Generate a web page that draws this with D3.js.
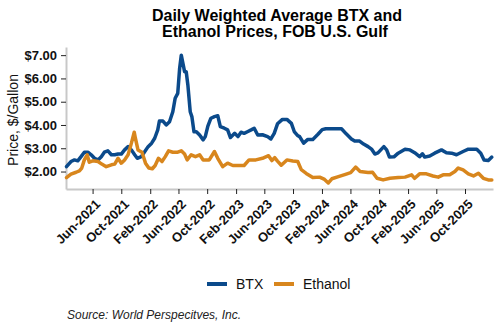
<!DOCTYPE html>
<html>
<head>
<meta charset="utf-8">
<script src="https://cdn.jsdelivr.net/npm/d3@7"></script>
<style>
  body { margin: 0; background: #fff; }
  svg { font-family: "Liberation Sans", Arial, sans-serif; }
</style>
</head>
<body>
<div id="chart"></div>
<script>
// BTX daily weighted average, $/gallon
const btx = [
  ["2021-02-10", 2.21], ["2021-03-01", 2.43], ["2021-03-16", 2.50], ["2021-03-30", 2.46],
  ["2021-04-13", 2.64], ["2021-04-27", 2.83], ["2021-05-12", 2.83], ["2021-05-26", 2.72],
  ["2021-06-09", 2.57], ["2021-06-24", 2.50], ["2021-07-08", 2.64], ["2021-07-21", 2.83],
  ["2021-08-05", 2.89], ["2021-08-20", 2.72], ["2021-09-03", 2.72], ["2021-09-17", 2.75],
  ["2021-10-01", 2.75], ["2021-10-15", 2.93], ["2021-10-30", 3.07], ["2021-11-13", 2.93],
  ["2021-11-27", 2.72], ["2021-12-08", 2.57], ["2021-12-25", 2.64], ["2022-01-09", 2.86],
  ["2022-01-23", 3.07], ["2022-02-07", 3.22], ["2022-02-20", 3.43], ["2022-03-05", 3.79],
  ["2022-03-12", 4.17], ["2022-03-27", 4.17], ["2022-04-10", 4.00], ["2022-04-24", 4.14],
  ["2022-05-08", 4.57], ["2022-05-18", 5.15], ["2022-05-29", 5.36], ["2022-06-06", 6.43],
  ["2022-06-13", 7.00], ["2022-06-20", 6.65], ["2022-06-27", 6.29], ["2022-07-04", 6.29],
  ["2022-07-11", 5.72], ["2022-07-21", 4.57], ["2022-07-28", 4.36], ["2022-08-06", 3.71],
  ["2022-08-16", 3.71], ["2022-08-30", 3.57], ["2022-09-14", 3.36], ["2022-09-23", 3.50],
  ["2022-10-04", 3.95], ["2022-10-17", 4.29], ["2022-11-01", 4.36], ["2022-11-15", 4.40],
  ["2022-11-26", 3.93], ["2022-12-13", 3.86], ["2022-12-27", 3.79], ["2023-01-08", 3.46],
  ["2023-01-26", 3.64], ["2023-02-09", 3.50], ["2023-02-22", 3.69], ["2023-03-07", 3.64],
  ["2023-03-21", 3.71], ["2023-04-06", 3.79], ["2023-04-19", 3.86], ["2023-05-04", 3.57],
  ["2023-05-24", 3.58], ["2023-06-15", 3.50], ["2023-06-29", 3.40], ["2023-07-13", 3.64],
  ["2023-07-27", 4.05], ["2023-08-17", 4.24], ["2023-09-05", 4.24], ["2023-09-24", 4.07],
  ["2023-10-07", 3.70], ["2023-10-20", 3.55], ["2023-10-29", 3.50], ["2023-11-15", 3.22],
  ["2023-12-03", 3.38], ["2023-12-24", 3.38], ["2024-01-15", 3.60], ["2024-02-02", 3.80],
  ["2024-02-17", 3.84], ["2024-03-12", 3.84], ["2024-04-07", 3.84], ["2024-04-24", 3.84],
  ["2024-05-14", 3.62], ["2024-06-05", 3.40], ["2024-06-19", 3.31], ["2024-07-10", 3.31],
  ["2024-07-27", 3.18], ["2024-08-15", 3.07], ["2024-08-31", 2.95], ["2024-09-13", 2.75],
  ["2024-09-26", 2.80], ["2024-10-08", 2.93], ["2024-10-21", 3.07], ["2024-11-02", 2.93],
  ["2024-11-14", 2.62], ["2024-12-03", 2.63], ["2024-12-21", 2.79], ["2025-01-19", 2.96],
  ["2025-02-09", 2.93], ["2025-03-01", 2.81], ["2025-03-22", 2.64], ["2025-04-03", 2.76],
  ["2025-04-13", 2.62], ["2025-05-04", 2.67], ["2025-05-25", 2.79], ["2025-06-23", 2.93],
  ["2025-07-14", 2.81], ["2025-08-05", 2.79], ["2025-08-26", 2.72], ["2025-09-23", 2.86],
  ["2025-10-15", 2.96], ["2025-11-20", 2.96], ["2025-12-07", 2.79], ["2025-12-21", 2.50],
  ["2026-01-08", 2.47], ["2026-01-23", 2.62]
];

// Ethanol daily weighted average, $/gallon
const ethanol = [
  ["2021-02-10", 1.74], ["2021-03-01", 1.89], ["2021-03-23", 1.97], ["2021-04-06", 2.03],
  ["2021-04-16", 2.15], ["2021-04-27", 2.50], ["2021-05-09", 2.72], ["2021-05-18", 2.40],
  ["2021-06-02", 2.46], ["2021-06-24", 2.43], ["2021-07-10", 2.32], ["2021-07-29", 2.21],
  ["2021-08-20", 2.29], ["2021-09-03", 2.32], ["2021-09-17", 2.57], ["2021-10-01", 2.36],
  ["2021-10-15", 2.50], ["2021-10-30", 2.72], ["2021-11-13", 3.22], ["2021-11-25", 3.69],
  ["2021-11-30", 3.43], ["2021-12-11", 2.93], ["2021-12-28", 2.83], ["2022-01-12", 2.36],
  ["2022-01-26", 2.15], ["2022-02-10", 2.12], ["2022-02-22", 2.26], ["2022-03-08", 2.57],
  ["2022-03-23", 2.43], ["2022-04-06", 2.64], ["2022-04-20", 2.89], ["2022-05-08", 2.83],
  ["2022-05-29", 2.83], ["2022-06-13", 2.89], ["2022-06-27", 2.75], ["2022-07-08", 2.50],
  ["2022-07-25", 2.72], ["2022-08-12", 2.64], ["2022-08-30", 2.72], ["2022-09-14", 2.50],
  ["2022-09-28", 2.50], ["2022-10-10", 2.50], ["2022-11-01", 2.86], ["2022-11-15", 2.57],
  ["2022-12-06", 2.21], ["2022-12-27", 2.36], ["2023-01-18", 2.26], ["2023-02-09", 2.26],
  ["2023-03-07", 2.26], ["2023-03-28", 2.50], ["2023-04-26", 2.50], ["2023-05-24", 2.57],
  ["2023-06-19", 2.68], ["2023-07-03", 2.47], ["2023-07-15", 2.60], ["2023-07-27", 2.45],
  ["2023-08-12", 2.27], ["2023-09-05", 2.50], ["2023-09-30", 2.45], ["2023-10-21", 2.43],
  ["2023-11-05", 2.08], ["2023-11-26", 1.92], ["2023-12-24", 1.74], ["2024-01-22", 1.76],
  ["2024-02-12", 1.66], ["2024-02-28", 1.51], ["2024-03-14", 1.69], ["2024-04-11", 1.78],
  ["2024-05-11", 1.88], ["2024-06-02", 1.95], ["2024-06-23", 2.19], ["2024-07-12", 2.00],
  ["2024-08-15", 1.96], ["2024-09-03", 1.97], ["2024-09-22", 1.71], ["2024-10-18", 1.64],
  ["2024-11-16", 1.71], ["2024-12-21", 1.74], ["2025-01-19", 1.76], ["2025-02-16", 1.86],
  ["2025-03-01", 1.71], ["2025-03-22", 1.90], ["2025-04-20", 1.90], ["2025-05-18", 1.81],
  ["2025-06-09", 1.76], ["2025-06-30", 1.86], ["2025-07-28", 1.86], ["2025-08-19", 2.00],
  ["2025-09-02", 2.15], ["2025-09-23", 2.07], ["2025-10-15", 1.90], ["2025-11-06", 1.81],
  ["2025-11-27", 1.93], ["2025-12-18", 1.71], ["2026-01-08", 1.64], ["2026-01-23", 1.64]
];

const xTicks = [
  "2021-06-01", "2021-10-01", "2022-02-01", "2022-06-01", "2022-10-01",
  "2023-02-01", "2023-06-01", "2023-10-01", "2024-02-01", "2024-06-01",
  "2024-10-01", "2025-02-01", "2025-06-01", "2025-10-01"
];
const yTicks = [2, 3, 4, 5, 6, 7];

const seriesNames = ["BTX", "Ethanol"];
const seriesColors = ["#0b4a8b", "#d8861d"];

const width = 500, height = 330;
const parse = d3.timeParse("%Y-%m-%d");

const svg = d3.select("#chart").append("svg")
    .attr("width", width)
    .attr("height", height);

// Title, two lines
svg.append("text")
    .attr("x", 277).attr("y", 21)
    .attr("text-anchor", "middle")
    .attr("font-size", 16).attr("font-weight", "bold")
    .text("Daily Weighted Average BTX and");
svg.append("text")
    .attr("x", 275).attr("y", 37)
    .attr("text-anchor", "middle")
    .attr("font-size", 16).attr("font-weight", "bold")
    .text("Ethanol Prices, FOB U.S. Gulf");

const x = d3.scaleTime()
    .domain([parse("2021-02-08"), parse("2026-01-28")])
    .range([66, 493]);

const y = d3.scaleLinear()
    .domain([1.25, 7.35])
    .range([189, 47]);

// Axes
const xAxis = svg.append("g")
    .attr("transform", "translate(0,189)")
    .call(d3.axisBottom(x)
        .tickValues(xTicks.map(parse))
        .tickFormat(d3.timeFormat("%b-%Y"))
        .tickSize(5)
        .tickSizeOuter(0));
xAxis.select(".domain").attr("stroke", "#c8c8c8").attr("stroke-width", 2);
xAxis.selectAll(".tick line").attr("stroke", "#222");
xAxis.selectAll(".tick text")
    .attr("font-size", 13)
    .attr("font-weight", "bold")
    .attr("fill", "#111")
    .attr("text-anchor", "end")
    .attr("y", 11)
    .attr("dx", "0")
    .attr("dy", "0.35em")
    .attr("transform", "translate(-3,5) rotate(-45)");

const yAxis = svg.append("g")
    .attr("transform", "translate(66,0)")
    .call(d3.axisLeft(y)
        .tickValues(yTicks)
        .tickFormat(d3.format("$.2f"))
        .tickSize(5)
        .tickPadding(4)
        .tickSizeOuter(0));
yAxis.select(".domain").attr("stroke", "#c8c8c8").attr("stroke-width", 2);
yAxis.selectAll(".tick line").attr("stroke", "#222");
yAxis.selectAll(".tick text")
    .attr("font-size", 13)
    .attr("font-weight", "bold")
    .attr("fill", "#111");

svg.append("text")
    .attr("transform", "translate(18,120) rotate(-90)")
    .attr("text-anchor", "middle")
    .attr("font-size", 14)
    .attr("fill", "#111")
    .text("Price, $/Gallon");

// Price lines
const line = d3.line()
    .x(d => x(parse(d[0])))
    .y(d => y(d[1]));

[btx, ethanol].forEach((data, i) => {
    svg.append("path")
        .datum(data)
        .attr("fill", "none")
        .attr("stroke", seriesColors[i])
        .attr("stroke-width", 3.5)
        .attr("stroke-linejoin", "round")
        .attr("stroke-linecap", "round")
        .attr("d", line);
});

// Legend
const legendX = [207, 274];
seriesNames.forEach((name, i) => {
    const g = svg.append("g").attr("transform", `translate(${legendX[i]},284)`);
    g.append("line")
        .attr("x1", 0).attr("x2", 20)
        .attr("stroke", seriesColors[i])
        .attr("stroke-width", 4);
    g.append("text")
        .attr("x", 29).attr("y", 5)
        .attr("font-size", 14)
        .attr("fill", "#111")
        .text(name);
});

// Source note
svg.append("text")
    .attr("x", 67).attr("y", 319)
    .attr("font-size", 12)
    .attr("font-style", "italic")
    .attr("fill", "#222")
    .text("Source: World Perspecitves, Inc.");
</script>
</body>
</html>
